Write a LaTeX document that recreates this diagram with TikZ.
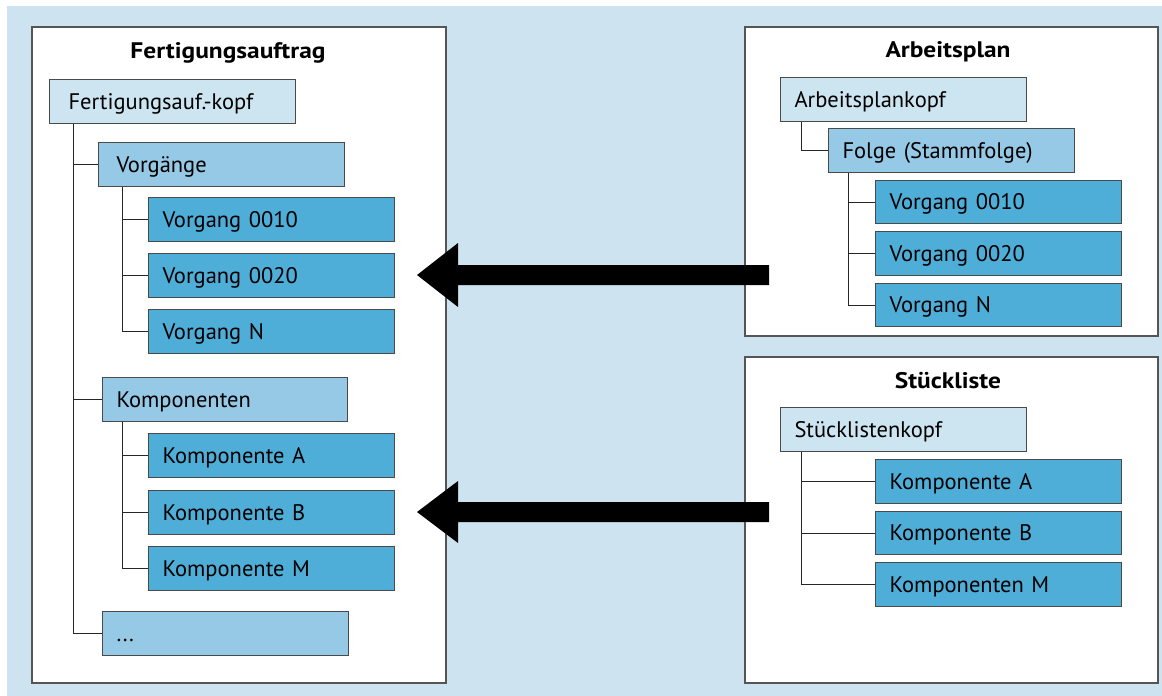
\documentclass[tikz,border=0pt]{standalone}
\usepackage{fontspec}
\setmainfont{PT Sans}
\newfontfamily\titlefont[FakeStretch=1.13]{PT Sans}
\usetikzlibrary{calc}
\definecolor{bgblue}{HTML}{CDE4F0}
\definecolor{clight}{HTML}{CDE4F1}
\definecolor{cmid}{HTML}{95C9E5}
\definecolor{cdark}{HTML}{4FAED8}
\definecolor{boxline}{HTML}{4A4A4A}
\definecolor{panelline}{HTML}{555555}
\tikzset{
  panel/.style={draw=panelline, line width=1.2pt, fill=white, minimum width=#1, inner sep=0pt},
  ptitle/.style={anchor=base, font=\titlefont\fontsize{22.5}{26}\selectfont\bfseries},
  bx/.style={draw=boxline, line width=1pt, anchor=north west, minimum height=44pt,
    inner ysep=0pt, inner xsep=14pt, text width=218pt, text height=15pt, text depth=0pt,
    align=left, font=\fontsize{22.5}{26}\selectfont},
  lt/.style={bx, fill=clight},
  md/.style={bx, fill=cmid},
  dk/.style={bx, fill=cdark},
  tree/.style={draw=black!85, line width=1pt},
  bigarrow/.style={fill=black}
}
\begin{document}
\begin{tikzpicture}[x=1pt,y=-1pt]
\useasboundingbox (0,0) rectangle (1162,696);
\fill[white] (0,0) rectangle (1162,696);
\fill[bgblue] (7,6) rectangle (1162,696);

% panels
\node[panel=414pt, minimum height=656pt] (pL) at (239,355) {};
\node[panel=413pt, minimum height=309pt] (pA) at (951.5,181.5) {};
\node[panel=413pt, minimum height=326pt] (pS) at (951.5,520) {};

\node[ptitle] (tL) at (228,58) {Fertigungsauftrag};
\node[ptitle] (tA) at (948,57) {Arbeitsplan};
\node[ptitle] (tS) at (948,388) {Stückliste};

% left tree
\node[lt, inner xsep=19pt, text width=208pt] (fk) at (49,79) {Fertigungsauf.-kopf};
\node[md, inner xsep=18pt, text width=210pt] (vg) at (98,142) {Vorgänge};
\node[dk] (v1) at (148,197) {Vorgang 0010};
\node[dk] (v2) at (148,253) {Vorgang 0020};
\node[dk] (vn) at (148,309) {Vorgang N};
\node[md, text width=217pt] (ko) at (102,377) {Komponenten};
\node[dk] (ka) at (148,433) {Komponente A};
\node[dk] (kb) at (148,490) {Komponente B};
\node[dk] (km) at (148,546) {Komponente M};
\node[md] (dots) at (102,611) {...};

\draw[tree] ([xshift=24pt]fk.south west) |- (vg.west);
\draw[tree] ([xshift=24pt]fk.south west) |- (ko.west);
\draw[tree] ([xshift=24pt]fk.south west) |- (dots.west);
\draw[tree] ([xshift=24pt]vg.south west) |- (v1.west);
\draw[tree] ([xshift=24pt]vg.south west) |- (v2.west);
\draw[tree] ([xshift=24pt]vg.south west) |- (vn.west);
\draw[tree] ([xshift=20pt]ko.south west) |- (ka.west);
\draw[tree] ([xshift=20pt]ko.south west) |- (kb.west);
\draw[tree] ([xshift=20pt]ko.south west) |- (km.west);

% Arbeitsplan tree
\node[lt] (ak) at (780,77) {Arbeitsplankopf};
\node[md] (fo) at (828,128) {Folge (Stammfolge)};
\node[dk, minimum height=43pt] (r1) at (875,180) {Vorgang 0010};
\node[dk] (r2) at (875,231) {Vorgang 0020};
\node[dk, minimum height=43pt] (rn) at (875,283) {Vorgang N};

\draw[tree] ([xshift=21pt]ak.south west) |- (fo.west);
\draw[tree] ([xshift=20pt]fo.south west) |- (r1.west);
\draw[tree] ([xshift=20pt]fo.south west) |- (r2.west);
\draw[tree] ([xshift=20pt]fo.south west) |- (rn.west);

% Stueckliste tree
\node[lt] (sk) at (780,407) {Stücklistenkopf};
\node[dk] (sa) at (875,459) {Komponente A};
\node[dk, minimum height=43pt] (sb) at (875,511) {Komponente B};
\node[dk] (sm) at (875,562) {Komponenten M};

\draw[tree] ([xshift=21pt]sk.south west) |- (sa.west);
\draw[tree] ([xshift=21pt]sk.south west) |- (sb.west);
\draw[tree] ([xshift=21pt]sk.south west) |- (sm.west);

% arrows
\coordinate (a1s) at (769,275);
\coordinate (a1e) at (417,275);
\coordinate (a2s) at (769,512);
\coordinate (a2e) at (417,512);
\fill[bigarrow] ($(a1s)+(0,-10)$) -- ($(a1e)+(41,-10)$) -- ($(a1e)+(41,-32)$) -- (a1e)
  -- ($(a1e)+(41,32)$) -- ($(a1e)+(41,10)$) -- ($(a1s)+(0,10)$) -- cycle;
\fill[bigarrow] ($(a2s)+(0,-10)$) -- ($(a2e)+(41,-10)$) -- ($(a2e)+(41,-31)$) -- (a2e)
  -- ($(a2e)+(41,31)$) -- ($(a2e)+(41,10)$) -- ($(a2s)+(0,10)$) -- cycle;
\end{tikzpicture}
\end{document}
